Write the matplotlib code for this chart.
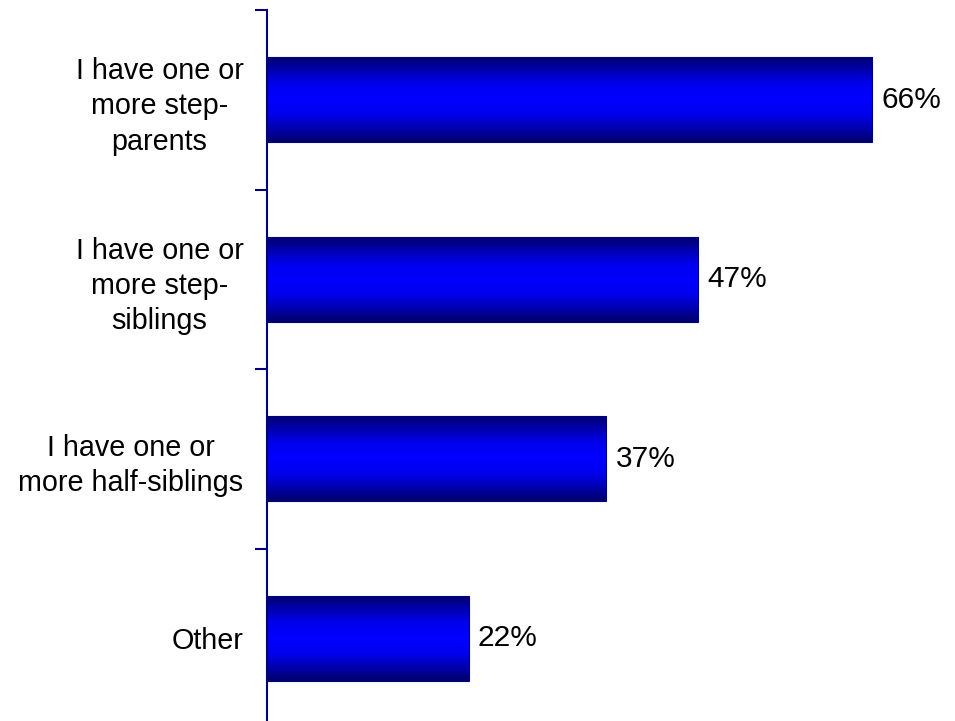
import numpy as np
import matplotlib.pyplot as plt
from matplotlib.colors import LinearSegmentedColormap

categories = ['I have one or\nmore step-\nparents',
              'I have one or\nmore step-\nsiblings',
              'I have one or\nmore half-siblings',
              'Other']
values = [66, 47, 37, 22]

plt.rcParams['font.family'] = ['Liberation Sans', 'DejaVu Sans']

fig = plt.figure(figsize=(9.55, 7.21), dpi=100)
ax = fig.add_axes([267 / 955, -7 / 721, 688 / 955, 718 / 721])

y = np.arange(len(categories))
bars = ax.barh(y, values, height=0.475, color='none', edgecolor='#000080', linewidth=0.8, zorder=3)

# degradado azul oscuro - azul - azul oscuro
grad = np.abs(np.linspace(-1, 1, 256)).reshape(-1, 1)
cmap = LinearSegmentedColormap.from_list('azul', [(0, '#0000ff'), (0.35, '#0000ee'),
                                                  (0.75, '#0000a0'), (1, '#000068')])
for b in bars:
    x0, y0 = b.get_x(), b.get_y()
    im = ax.imshow(grad, cmap=cmap, aspect='auto', interpolation='bilinear',
                   extent=[x0, x0 + b.get_width(), y0, y0 + b.get_height()], zorder=2)
    im.set_clip_path(b)

for yi, v in zip(y, values):
    ax.text(v + 1.0, yi, f'{v}%', va='center', ha='left', fontsize=21.5)

ax.set_xlim(0, 75)
ax.set_ylim(len(categories) - 0.5, -0.5)
ax.set_yticks(y)
ax.set_yticklabels(categories, fontsize=20.7, multialignment='center', linespacing=1.34)
ax.tick_params(axis='y', which='major', length=0, pad=17)
ax.set_yticks(np.arange(-0.5, len(categories), 1), minor=True)
ax.tick_params(axis='y', which='minor', length=9, width=1.5, color='#000080', direction='out')
ax.set_xticks([])
for s in ['top', 'right', 'bottom']:
    ax.spines[s].set_visible(False)
ax.spines['left'].set_color('#000080')
ax.spines['left'].set_linewidth(1.5)

fig.savefig('out.png', dpi=100)
